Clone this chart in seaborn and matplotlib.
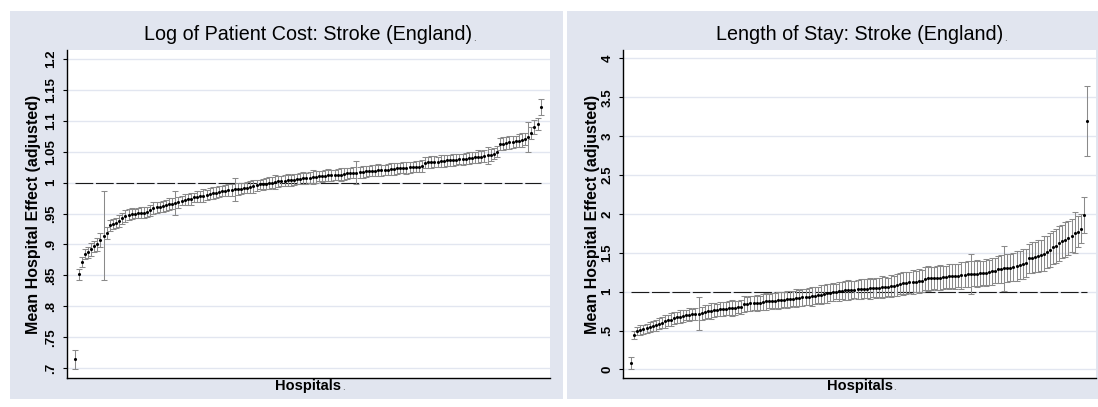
import numpy as np
import pandas as pd
import matplotlib
matplotlib.use("Agg")
import matplotlib.pyplot as plt
from matplotlib.patches import Rectangle
import seaborn as sns

# ---- hospital effects, sorted by rank ----
cost_est = [
    0.714, 0.852, 0.872, 0.885, 0.887, 0.892, 0.897, 0.900, 0.907, 0.914,
    0.919, 0.931, 0.933, 0.934, 0.938, 0.942, 0.946, 0.948, 0.950, 0.950,
    0.951, 0.951, 0.951, 0.953, 0.955, 0.959, 0.960, 0.960, 0.962, 0.963,
    0.965, 0.966, 0.967, 0.968, 0.971, 0.972, 0.973, 0.974, 0.976, 0.977,
    0.978, 0.979, 0.980, 0.982, 0.983, 0.984, 0.985, 0.986, 0.987, 0.988,
    0.988, 0.989, 0.990, 0.990, 0.991, 0.992, 0.993, 0.994, 0.996, 0.997,
    0.997, 0.998, 0.999, 1.000, 1.001, 1.002, 1.002, 1.003, 1.004, 1.004,
    1.005, 1.006, 1.006, 1.007, 1.007, 1.008, 1.009, 1.009, 1.010, 1.010,
    1.011, 1.012, 1.012, 1.012, 1.013, 1.013, 1.014, 1.015, 1.015, 1.016,
    1.016, 1.017, 1.017, 1.018, 1.019, 1.019, 1.019, 1.020, 1.020, 1.021,
    1.021, 1.022, 1.022, 1.023, 1.023, 1.024, 1.024, 1.025, 1.025, 1.026,
    1.026, 1.027, 1.032, 1.033, 1.033, 1.034, 1.034, 1.035, 1.035, 1.036,
    1.036, 1.037, 1.037, 1.038, 1.038, 1.039, 1.040, 1.040, 1.041, 1.042,
    1.042, 1.043, 1.044, 1.045, 1.047, 1.050, 1.062, 1.063, 1.064, 1.065,
    1.066, 1.067, 1.068, 1.069, 1.071, 1.074, 1.080, 1.090, 1.095, 1.123,
]
cost_halfwidth = [
    0.015, 0.009, 0.008, 0.008, 0.009, 0.010, 0.009, 0.010, 0.011, 0.072,
    0.010, 0.009, 0.008, 0.008, 0.009, 0.009, 0.010, 0.009, 0.009, 0.008,
    0.008, 0.009, 0.009, 0.008, 0.009, 0.010, 0.009, 0.008, 0.009, 0.009,
    0.010, 0.009, 0.019, 0.009, 0.008, 0.009, 0.009, 0.010, 0.008, 0.009,
    0.009, 0.010, 0.008, 0.009, 0.010, 0.009, 0.009, 0.008, 0.009, 0.010,
    0.009, 0.018, 0.010, 0.009, 0.008, 0.009, 0.009, 0.010, 0.009, 0.008,
    0.009, 0.009, 0.010, 0.009, 0.012, 0.009, 0.008, 0.009, 0.010, 0.009,
    0.009, 0.008, 0.009, 0.010, 0.009, 0.009, 0.011, 0.009, 0.008, 0.009,
    0.009, 0.010, 0.009, 0.008, 0.009, 0.010, 0.009, 0.009, 0.008, 0.009,
    0.019, 0.009, 0.010, 0.009, 0.008, 0.009, 0.009, 0.010, 0.009, 0.008,
    0.009, 0.010, 0.009, 0.009, 0.008, 0.009, 0.010, 0.009, 0.008, 0.009,
    0.009, 0.010, 0.009, 0.009, 0.010, 0.009, 0.008, 0.009, 0.010, 0.009,
    0.009, 0.010, 0.009, 0.008, 0.009, 0.009, 0.010, 0.009, 0.009, 0.010,
    0.009, 0.009, 0.014, 0.010, 0.009, 0.009, 0.010, 0.010, 0.009, 0.010,
    0.010, 0.009, 0.010, 0.011, 0.010, 0.024, 0.010, 0.011, 0.010, 0.013,
]

los_est = [
    0.080, 0.445, 0.497, 0.505, 0.515, 0.527, 0.545, 0.558, 0.570, 0.585,
    0.600, 0.618, 0.630, 0.640, 0.660, 0.670, 0.680, 0.690, 0.700, 0.706,
    0.710, 0.713, 0.718, 0.722, 0.735, 0.745, 0.750, 0.758, 0.765, 0.772,
    0.777, 0.782, 0.787, 0.790, 0.795, 0.800, 0.805, 0.840, 0.845, 0.850,
    0.853, 0.857, 0.860, 0.868, 0.874, 0.877, 0.880, 0.885, 0.889, 0.893,
    0.898, 0.903, 0.908, 0.912, 0.918, 0.922, 0.926, 0.930, 0.935, 0.940,
    0.948, 0.955, 0.962, 0.970, 0.978, 0.988, 0.995, 1.000, 1.005, 1.012,
    1.015, 1.018, 1.020, 1.025, 1.030, 1.035, 1.038, 1.040, 1.042, 1.045,
    1.048, 1.052, 1.055, 1.058, 1.062, 1.068, 1.075, 1.090, 1.104, 1.108,
    1.112, 1.118, 1.125, 1.130, 1.135, 1.140, 1.165, 1.170, 1.172, 1.175,
    1.175, 1.180, 1.185, 1.190, 1.200, 1.200, 1.200, 1.205, 1.210, 1.215,
    1.225, 1.227, 1.230, 1.233, 1.235, 1.240, 1.245, 1.250, 1.260, 1.270,
    1.286, 1.295, 1.300, 1.305, 1.310, 1.320, 1.330, 1.340, 1.355, 1.370,
    1.427, 1.435, 1.445, 1.457, 1.470, 1.490, 1.510, 1.540, 1.570, 1.590,
    1.620, 1.645, 1.670, 1.690, 1.720, 1.760, 1.770, 1.810, 1.985, 3.200,
]
los_halfwidth = [
    0.08, 0.05, 0.05, 0.06, 0.06, 0.06, 0.07, 0.06, 0.07, 0.07,
    0.07, 0.08, 0.07, 0.08, 0.08, 0.07, 0.08, 0.08, 0.07, 0.08,
    0.07, 0.08, 0.21, 0.08, 0.09, 0.08, 0.10, 0.09, 0.08, 0.09,
    0.09, 0.08, 0.09, 0.10, 0.09, 0.08, 0.09, 0.10, 0.09, 0.10,
    0.09, 0.10, 0.09, 0.10, 0.11, 0.09, 0.10, 0.10, 0.11, 0.10,
    0.10, 0.11, 0.10, 0.10, 0.12, 0.10, 0.11, 0.10, 0.11, 0.12,
    0.11, 0.10, 0.12, 0.11, 0.12, 0.11, 0.12, 0.10, 0.12, 0.11,
    0.12, 0.13, 0.12, 0.11, 0.12, 0.13, 0.12, 0.12, 0.13, 0.12,
    0.13, 0.12, 0.14, 0.13, 0.12, 0.14, 0.13, 0.14, 0.13, 0.15,
    0.14, 0.13, 0.15, 0.14, 0.15, 0.14, 0.15, 0.16, 0.15, 0.14,
    0.15, 0.16, 0.15, 0.14, 0.16, 0.15, 0.16, 0.15, 0.17, 0.16,
    0.17, 0.26, 0.16, 0.17, 0.16, 0.15, 0.17, 0.16, 0.17, 0.16,
    0.17, 0.18, 0.29, 0.18, 0.17, 0.18, 0.19, 0.18, 0.19, 0.18,
    0.19, 0.20, 0.19, 0.21, 0.20, 0.22, 0.21, 0.22, 0.21, 0.22,
    0.22, 0.21, 0.23, 0.22, 0.21, 0.26, 0.20, 0.19, 0.23, 0.45,
]

cost_ticks = [0.7, 0.75, 0.8, 0.85, 0.9, 0.95, 1.0, 1.05, 1.1, 1.15, 1.2]
cost_ticklabels = [".7", ".75", ".8", ".85", ".9", ".95", "1", "1.05", "1.1", "1.15", "1.2"]
los_ticks = [0, 0.5, 1, 1.5, 2, 2.5, 3, 3.5, 4]
los_ticklabels = ["0", ".5", "1", "1.5", "2", "2.5", "3", "3.5", "4"]

titles = ["Log of Patient Cost: Stroke (England)", "Length of Stay: Stroke (England)"]
y_title = "Mean Hospital Effect (adjusted)"
x_title = "Hospitals"

# ---- styling ----
sns.set_theme(style="white")
plt.rcParams["font.family"] = ["Liberation Sans", "DejaVu Sans"]

W, H = 1098, 407
REGION = "#e1e5ef"
GRID = "#e2e6f0"
BAR = "#8a8a8a"

fig = plt.figure(figsize=(W / 100, H / 100), dpi=100)
fig.patch.set_facecolor("white")


def px_box(x0, y0, x1, y1):
    return [x0 / W, 1 - y1 / H, (x1 - x0) / W, (y1 - y0) / H]


# graph regions behind each panel
for (x0, x1) in [(10, 563), (567, 1098)]:
    fig.patches.append(Rectangle((x0 / W, 1 - 399 / H), (x1 - x0) / W, (399 - 11) / H,
                                 transform=fig.transFigure, facecolor=REGION,
                                 edgecolor="none", zorder=-5))


def draw_panel(box, est, half, ylim, ticks, ticklabels, title, ylab_x):
    ax = fig.add_axes(px_box(*box))
    ax.set_zorder(2)
    ax.set_facecolor("white")
    est = np.asarray(est)
    half = np.asarray(half)
    df = pd.DataFrame({"rank": np.arange(1, len(est) + 1), "effect": est})

    ax.errorbar(df["rank"], df["effect"], yerr=half, fmt="none", ecolor=BAR,
                elinewidth=0.75, capsize=2.2, capthick=0.75, zorder=2)
    ax.plot([1, len(est)], [1, 1], color="#1a1a1a", lw=0.8, dashes=(16, 2.4), zorder=1.5)
    sns.scatterplot(data=df, x="rank", y="effect", ax=ax, color="black", s=5,
                    linewidth=0, zorder=3, legend=False)

    ax.set_xlim(-1.7, len(est) + 3)
    ax.set_ylim(*ylim)
    ax.set_yticks(ticks)
    ax.set_yticklabels(ticklabels)
    for lab in ax.get_yticklabels():
        lab.set_rotation(90)
        lab.set_verticalalignment("center")
        lab.set_fontsize(9.5)
        lab.set_fontweight("bold")
        lab.set_color("black")
    ax.set_xticks([])
    ax.set_xlabel("")
    ax.set_ylabel("")
    ax.tick_params(axis="y", direction="out", length=3, width=0.8, color="black", pad=4, left=True)
    ax.yaxis.grid(True, color=GRID, lw=1.0)
    ax.set_axisbelow(True)
    for side in ("top", "right"):
        ax.spines[side].set_visible(False)
    for side in ("left", "bottom"):
        ax.spines[side].set_color("black")
        ax.spines[side].set_linewidth(1.0)

    cx = (box[0] + box[2]) / 2
    t = fig.text(cx / W, 1 - 40 / H, title, ha="center", va="baseline", fontsize=14.2, color="black")
    xl = fig.text(cx / W, 1 - 390 / H, x_title, ha="center", va="baseline", fontsize=10.5,
                  fontweight="bold", color="black")
    fig.text(ylab_x / W, 1 - ((box[1] + box[3]) / 2) / H, y_title, rotation=90,
             ha="center", va="center", fontsize=11.5, fontweight="bold", color="black")
    return ax, t, xl


_, t1, x1 = draw_panel((67, 50, 550, 378), cost_est, cost_halfwidth, (0.684, 1.2145),
                       cost_ticks, cost_ticklabels, titles[0], 34)
_, t2, x2 = draw_panel((623, 50, 1096, 378), los_est, los_halfwidth, (-0.11, 4.107),
                       los_ticks, los_ticklabels, titles[1], 592)

# small trailing full stops after the titles
fig.canvas.draw()
r = fig.canvas.get_renderer()
for t in (t1, t2, x1, x2):
    bb = t.get_window_extent(renderer=r)
    fig.text((bb.x1 + 1) / W, (bb.y0 + 3) / H, ".", fontsize=7, color="#444444",
             ha="left", va="baseline", zorder=5)

fig.savefig("out.png", dpi=100, facecolor="white")
